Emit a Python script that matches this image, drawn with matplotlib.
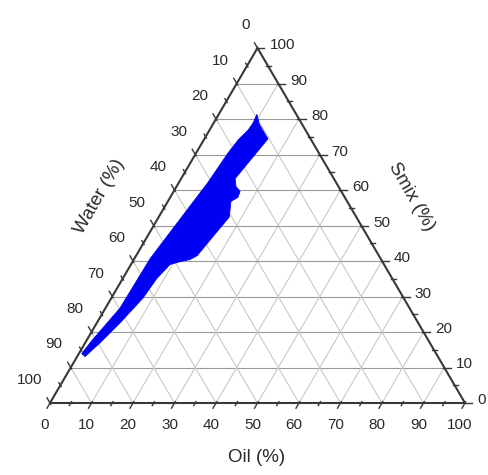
import numpy as np
import matplotlib
matplotlib.use("Agg")
import matplotlib.pyplot as plt

plt.rcParams['font.family'] = ['Liberation Sans', 'DejaVu Sans']

# ---- data (ternary compositions, %) ----
tick_values = [0, 10, 20, 30, 40, 50, 60, 70, 80, 90, 100]
# boundary of the microemulsion region: oil %, smix % (water = remainder)
region_oil = [9.2, 11.1, 15.3, 13.0, 14.3, 16.0, 16.3, 15.2, 17.0, 16.1, 14.7, 13.5,
              11.4, 9.4, 8.2, 7.6, 5.6, 3.6, 1.9, 0.7, 1.3, 3.5, 3.8, 7.0, 7.7, 8.3,
              9.3, 9.5]
region_smix = [81.3, 78.6, 74.4, 63.2, 61.0, 59.6, 57.9, 56.8, 52.4, 48.2, 41.5, 40.4,
               39.8, 39.0, 35.1, 29.5, 22.6, 17.0, 13.1, 13.9, 17.5, 26.7, 40.7, 62.1,
               70.5, 74.1, 76.9, 78.8]
axis_titles = ["Oil (%)", "Smix (%)", "Water (%)"]

H = np.sqrt(3) / 2


def to_xy(oil, smix):
    oil = np.asarray(oil, float)
    smix = np.asarray(smix, float)
    return oil + smix / 2.0, smix * H


W, Hpx = 489, 475
fig = plt.figure(figsize=(W / 100, Hpx / 100), dpi=100)
ax = fig.add_axes([0, 0, 1, 1])
# pixel mapping: oil 0 -> x px 50, oil 100 -> x px 465 ; smix 0 -> y px 403, 100 -> y px 48
sx = 415 / 100.0
sy = 355 / (100 * H)
ax.set_xlim(-50 / sx, (W - 50) / sx)
ax.set_ylim(-(Hpx - 403) / sy, 403 / sy)
ax.axis('off')

grid_h = '#9a9a9a'
grid_d = '#c9c9c9'
for v in tick_values[1:-1]:
    x, y = to_xy([0, 100 - v], [v, v])
    ax.plot(x, y, color=grid_h, lw=0.8, zorder=1)
    x, y = to_xy([v, v], [0, 100 - v])
    ax.plot(x, y, color=grid_d, lw=0.8, zorder=1)
    x, y = to_xy([0, 100 - v], [100 - v, 0])
    ax.plot(x, y, color=grid_d, lw=0.8, zorder=1)

# region
rx, ry = to_xy(region_oil, region_smix)
ax.fill(rx, ry, color='#0000f5', lw=0.6, ec='#0000f5', zorder=3)

# border
bx, by = to_xy([0, 100, 0, 0], [0, 0, 100, 0])
ax.plot(bx, by, color='#383838', lw=1.5, zorder=4, solid_joinstyle='miter')

edge_col = '#383838'
txt_col = '#2a2a2a'
fs_tick = 11
fs_title = 13.5


def tick(x0, y0, dxp, dyp, length, inner=1.5):
    ax.plot([x0 - inner * dxp / sx, x0 + length * dxp / sx],
            [y0 - inner * dyp / sy, y0 + length * dyp / sy],
            color=edge_col, lw=1.0, zorder=4)


minor = [5 + 10 * i for i in range(10)]
# bottom (oil)
for v in tick_values:
    x, y = to_xy(v, 0)
    tick(x, y, -0.5, -H, 6)
    ax.annotate(str(v), (x, y), xytext=(-5, -22), textcoords='offset pixels',
                ha='center', va='center', fontsize=fs_tick, color=txt_col)
for v in minor:
    x, y = to_xy(v, 0)
    tick(x, y, -0.5, -H, 3)
# right (smix)
for v in tick_values:
    x, y = to_xy(100 - v, v)
    tick(x, y, 1, 0, 7)
    ax.annotate(str(v), (x, y), xytext=(12, 3), textcoords='offset pixels',
                ha='left', va='center', fontsize=fs_tick, color=txt_col)
for v in minor:
    x, y = to_xy(100 - v, v)
    tick(x, y, 1, 0, 3.5)
# left (water)
for v in tick_values:
    x, y = to_xy(0, 100 - v)
    tick(x, y, -0.5, H, 6)
    ax.annotate(str(v), (x, y), xytext=(-8, 23), textcoords='offset pixels',
                ha='right', va='center', fontsize=fs_tick, color=txt_col)
for v in minor:
    x, y = to_xy(0, 100 - v)
    tick(x, y, -0.5, H, 3)


def px2data(px, py):
    return (px - 50) / sx, (403 - py) / sy

tx, ty = px2data(257, 458)
ax.text(tx, ty, axis_titles[0], ha='center', va='center', fontsize=fs_title, color=txt_col)
tx, ty = px2data(411, 197)
ax.text(tx, ty, axis_titles[1], ha='center', va='center', fontsize=fs_title, color=txt_col,
        rotation=-60, rotation_mode='anchor')
tx, ty = px2data(100, 197)
ax.text(tx, ty, axis_titles[2], ha='center', va='center', fontsize=fs_title, color=txt_col,
        rotation=60, rotation_mode='anchor')

fig.savefig('out.png', dpi=100)
